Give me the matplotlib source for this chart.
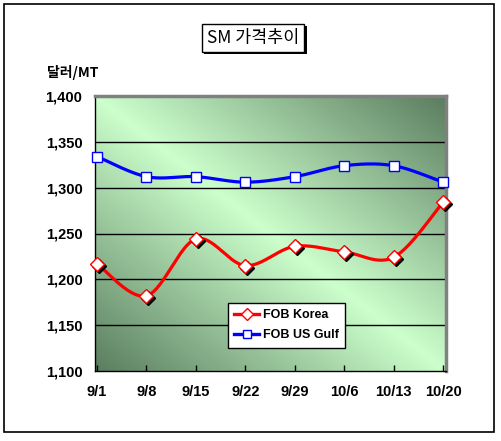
import numpy as np
import matplotlib
matplotlib.use("Agg")
import matplotlib.pyplot as plt
from matplotlib.patches import Rectangle
import matplotlib.transforms as mtransforms
from matplotlib.lines import Line2D

plt.rcParams['font.family'] = ['Liberation Sans', 'Noto Sans CJK KR', 'DejaVu Sans']

categories = ["9/1", "9/8", "9/15", "9/22", "9/29", "10/6", "10/13", "10/20"]
fob_korea = [1217, 1182, 1244, 1215, 1236, 1230, 1224, 1284]
fob_us_gulf = [1334, 1312, 1312, 1306, 1312, 1324, 1324, 1306]
yticks = [1100, 1150, 1200, 1250, 1300, 1350, 1400]
title = "SM 가격추이"
unit_label = "달러/MT"


def smooth(xs, ys, n=30):
    xs = np.asarray(xs, float); ys = np.asarray(ys, float)
    P = np.column_stack([xs, ys])
    P = np.vstack([P[0], P, P[-1]])
    out = []
    for i in range(1, len(P) - 2):
        p0, p1, p2, p3 = P[i - 1], P[i], P[i + 1], P[i + 2]
        t = np.linspace(0, 1, n)[:, None]
        c1 = p1 + (p2 - p0) / 6
        c2 = p2 - (p3 - p1) / 6
        seg = ((1 - t) ** 3) * p1 + 3 * ((1 - t) ** 2) * t * c1 + 3 * (1 - t) * t ** 2 * c2 + t ** 3 * p2
        out.append(seg if i == 1 else seg[1:])
    out = np.vstack(out)
    return out[:, 0], out[:, 1]


fig = plt.figure(figsize=(5.01, 4.41), dpi=100)
fig.patch.set_facecolor('white')

# outer border
fig.patches.append(Rectangle((4 / 501, 1 - 432 / 441), 490 / 501, 428 / 441,
                             transform=fig.transFigure, fill=False,
                             edgecolor='black', linewidth=1.2))

ax = fig.add_axes([95 / 501, 70 / 441, 351 / 501, 275 / 441])
x = np.arange(len(categories))
ax.set_xlim(-0.04, 7.06)
ax.set_ylim(1100, 1400)

# gradient background
H, W = 200, 260
yy, xx = np.mgrid[0:H, 0:W]
t = np.abs(xx / (W - 1) - yy / (H - 1))
light = np.array([204, 255, 204]) / 255
dark = np.array([90, 125, 95]) / 255
img = light[None, None, :] * (1 - t[..., None]) + dark[None, None, :] * t[..., None]
ax.imshow(img, extent=[-0.04, 7.06, 1100, 1400], aspect='auto', origin='upper', zorder=0)

for yv in yticks[1:-1]:
    ax.axhline(yv, color='black', linewidth=1.0, zorder=1)

for s in ['top', 'right']:
    ax.spines[s].set_color('#808080')
    ax.spines[s].set_linewidth(2.5)
for s in ['left', 'bottom']:
    ax.spines[s].set_color('black')
    ax.spines[s].set_linewidth(1.0)

ax.set_yticks(yticks)
ax.set_yticklabels([f"{v:,}" for v in yticks], fontweight='bold', fontsize=10.5)
ax.tick_params(axis='y', length=0, pad=9)
ax.set_xticks(x)
ax.set_xticklabels(categories, fontweight='bold', fontsize=10.5)
ax.tick_params(axis='x', direction='in', length=4, width=1, pad=10)

shadow = mtransforms.offset_copy(ax.transData, fig=fig, x=1.5, y=-1.5, units='points')

sx, sy = smooth(x, fob_korea)
ax.plot(sx, sy, color='red', linewidth=2.3, zorder=3, solid_capstyle='round')
ax.plot(x, fob_korea, linestyle='none', marker='D', markersize=7, color='black', transform=shadow, zorder=4, clip_on=False)
ax.plot(x, fob_korea, linestyle='none', marker='D', markersize=7, markerfacecolor='white',
        markeredgecolor='red', markeredgewidth=1, zorder=5, clip_on=False)

bx, by = smooth(x, fob_us_gulf)
ax.plot(bx, by, color='blue', linewidth=2.3, zorder=3, solid_capstyle='round')
ax.plot(x, fob_us_gulf, linestyle='none', marker='s', markersize=7, markerfacecolor='white',
        markeredgecolor='blue', markeredgewidth=1, zorder=5, clip_on=False)

handles = [Line2D([], [], color='red', linewidth=2.4, marker='D', markersize=6,
                  markerfacecolor='white', markeredgecolor='red'),
           Line2D([], [], color='blue', linewidth=2.4, marker='s', markersize=6,
                  markerfacecolor='white', markeredgecolor='blue')]
leg = ax.legend(handles, ["FOB Korea", "FOB US Gulf"], loc='upper left',
                bbox_to_anchor=((228 - 95) / 351, (371 - 303) / 275),
                frameon=True, fancybox=False, framealpha=1, edgecolor='black',
                prop={'weight': 'bold', 'size': 9}, handlelength=2.0,
                handletextpad=0.3, borderpad=0.5, labelspacing=0.65,
                borderaxespad=0)
leg.get_frame().set_linewidth(1.0)
leg.set_zorder(10)

# title with shadow box
fig.text(253 / 501, 1 - 38 / 441, title, ha='center', va='center', fontsize=12.5,
         family=['Noto Sans CJK KR', 'DejaVu Sans'],
         bbox=dict(boxstyle='square,pad=0.3', facecolor='white', edgecolor='black', linewidth=1.0))
fig.patches.append(Rectangle((204 / 501, 1 - 54 / 441), 103 / 501, 28 / 441,
                             transform=fig.transFigure, facecolor='black', edgecolor='none', zorder=-1))

fig.text(47 / 501, 1 - 73 / 441, unit_label, ha='left', va='center', fontsize=10,
         fontweight='bold', family=['Noto Sans CJK KR', 'DejaVu Sans'])

fig.savefig('out.png', dpi=100)
